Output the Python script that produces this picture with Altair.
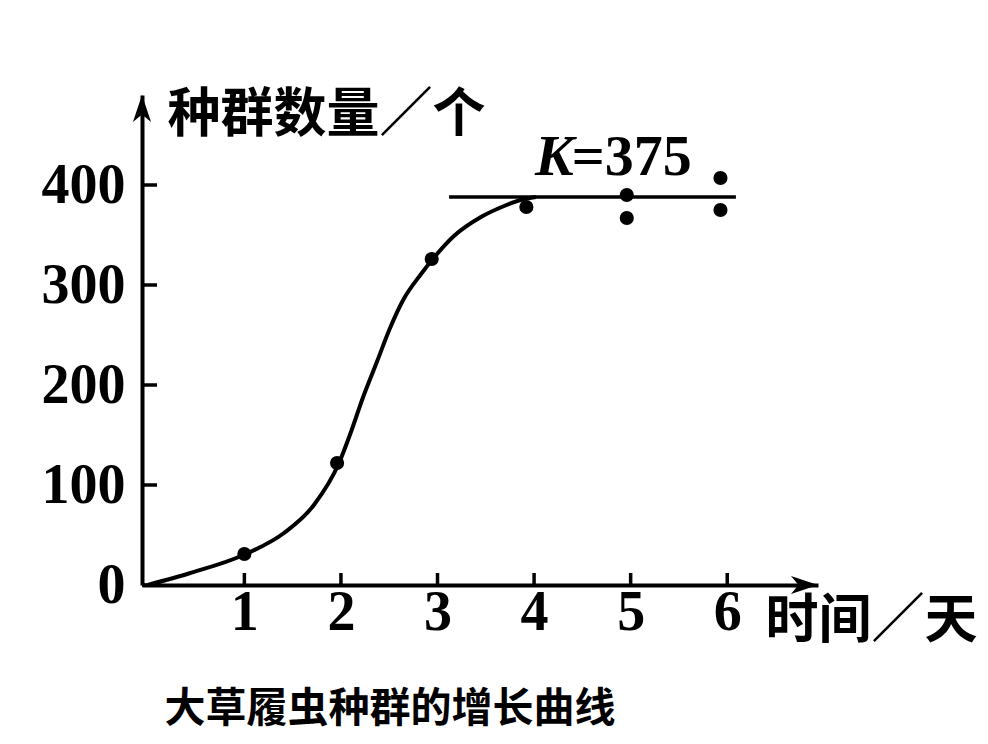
import altair as alt
import pandas as pd

# ---- data ----
obs_day = [1, 1.96, 2.94, 3.92, 4.96, 4.96, 5.93, 5.93]
obs_count = [31, 122, 326, 378, 390, 367, 407, 375]

curve_day = [0, 0.44, 0.99, 1.41, 1.72, 1.98, 2.10, 2.23, 2.38, 2.50, 2.65, 2.83, 2.96,
             3.17, 3.45, 3.69, 3.86, 4.02]
curve_count = [0, 12, 30, 52, 80, 122, 152, 188, 225, 255, 286, 311, 327,
               349, 368, 379, 385, 388]

k_start, k_end, k_level = 3.12, 6.09, 388
k_label_italic = "K"
k_label_rest = "=375"

x_ticks = [1, 2, 3, 4, 5, 6]
y_ticks = [0, 100, 200, 300, 400]

W, H = 676, 490
X_MIN, X_MAX = -0.06, 6.94
xs = alt.Scale(domain=[X_MIN, X_MAX], nice=False, zero=False)
ys = alt.Scale(domain=[0, 490], nice=False, zero=False)

NUM_FONT = "Liberation Serif"
CJK_FONT = "Noto Sans CJK SC"

obs = pd.DataFrame({"day": obs_day, "count": obs_count})
curve = pd.DataFrame({"day": curve_day, "count": curve_count})
kline = pd.DataFrame({"day": [k_start, k_end], "count": [k_level, k_level]})
xt = pd.DataFrame({"day": x_ticks})
yt = pd.DataFrame({"count": y_ticks})
one = pd.DataFrame({"i": [0]})

x_axis = alt.Axis(values=x_ticks, format="d", ticks=False, grid=False, domainColor="black",
                  domainWidth=4, labelFont=NUM_FONT, labelFontSize=56, labelFontWeight="bold",
                  labelColor="black", labelPadding=0, labelAngle=0,
                  title="时间／天", titleFont=CJK_FONT, titleFontSize=53, titleFontWeight="bold",
                  titleColor="black", titleAnchor="start", titleAlign="left",
                  titleBaseline="alphabetic", titleX=623, titleY=52)
y_axis = alt.Axis(values=y_ticks, format="d", ticks=False, grid=False, domainColor="black",
                  domainWidth=4, labelFont=NUM_FONT, labelFontSize=56, labelFontWeight="bold",
                  labelColor="black", labelPadding=17,
                  title="种群数量／个", titleFont=CJK_FONT, titleFontSize=53, titleFontWeight="bold",
                  titleColor="black", titleAngle=0, titleAlign="left",
                  titleBaseline="alphabetic", titleX=25, titleY=36)

curve_layer = alt.Chart(curve).mark_line(color="black", strokeWidth=4, interpolate="monotone").encode(
    x=alt.X("day:Q", scale=xs, axis=x_axis),
    y=alt.Y("count:Q", scale=ys, axis=y_axis),
)
k_layer = alt.Chart(kline).mark_line(color="black", strokeWidth=3.5).encode(
    x=alt.X("day:Q", scale=xs), y=alt.Y("count:Q", scale=ys)
)
pts_layer = alt.Chart(obs).mark_circle(color="black", size=200, opacity=1).encode(
    x=alt.X("day:Q", scale=xs), y=alt.Y("count:Q", scale=ys)
)

# inward tick marks (y scale: 1 unit per pixel)
x_tick_len = 12
y_tick_len = 15 * (X_MAX - X_MIN) / W
xtick_layer = alt.Chart(xt).mark_rule(color="black", strokeWidth=3.5).encode(
    x=alt.X("day:Q", scale=xs), y=alt.datum(0), y2=alt.datum(x_tick_len))
ytick_layer = alt.Chart(yt).mark_rule(color="black", strokeWidth=3.5).encode(
    y=alt.Y("count:Q", scale=ys), x=alt.datum(X_MIN), x2=alt.datum(X_MIN + y_tick_len))

arrow_right = "M1,0 L-1,-0.67 L-0.45,0 L-1,0.67 Z"
arrow_up = "M0,-1 L-0.67,1 L0,0.45 L0.67,1 Z"
arr_x = alt.Chart(one).mark_point(shape=arrow_right, size=730, filled=True, color="black",
                                  opacity=1, strokeWidth=0).encode(
    x=alt.value(W - 13.5), y=alt.value(H)
)
arr_y = alt.Chart(one).mark_point(shape=arrow_up, size=730, filled=True, color="black",
                                  opacity=1, strokeWidth=0).encode(
    x=alt.value(0), y=alt.value(13.5)
)

k_text = alt.Chart(one).mark_text(text=k_label_italic, font=NUM_FONT, fontSize=58,
                                  fontStyle="italic", fontWeight="bold", color="black",
                                  align="left", baseline="alphabetic").encode(
    x=alt.datum(4.01, scale=xs), y=alt.datum(410, scale=ys)
)
eq_text = alt.Chart(one).mark_text(text=k_label_rest, font=NUM_FONT, fontSize=58,
                                   fontWeight="bold", color="black", align="left",
                                   baseline="alphabetic").encode(
    x=alt.datum(4.39, scale=xs), y=alt.datum(410, scale=ys)
)

chart = alt.layer(
    curve_layer, k_layer, pts_layer, xtick_layer, ytick_layer,
    arr_x, arr_y, k_text, eq_text
).properties(
    width=W, height=H,
    title=alt.TitleParams("大草履虫种群的增长曲线", orient="bottom", anchor="middle", frame="group",
                          font=CJK_FONT, fontSize=41, fontWeight="bold", color="black",
                          dx=-90, offset=42),
    autosize=alt.AutoSizeParams(type="none"),
    padding={"left": 134, "top": 87, "right": 162, "bottom": 148},
    background="white",
).configure_view(strokeWidth=0)

chart.save("out.html", embed_options={"renderer": "svg", "actions": False})
